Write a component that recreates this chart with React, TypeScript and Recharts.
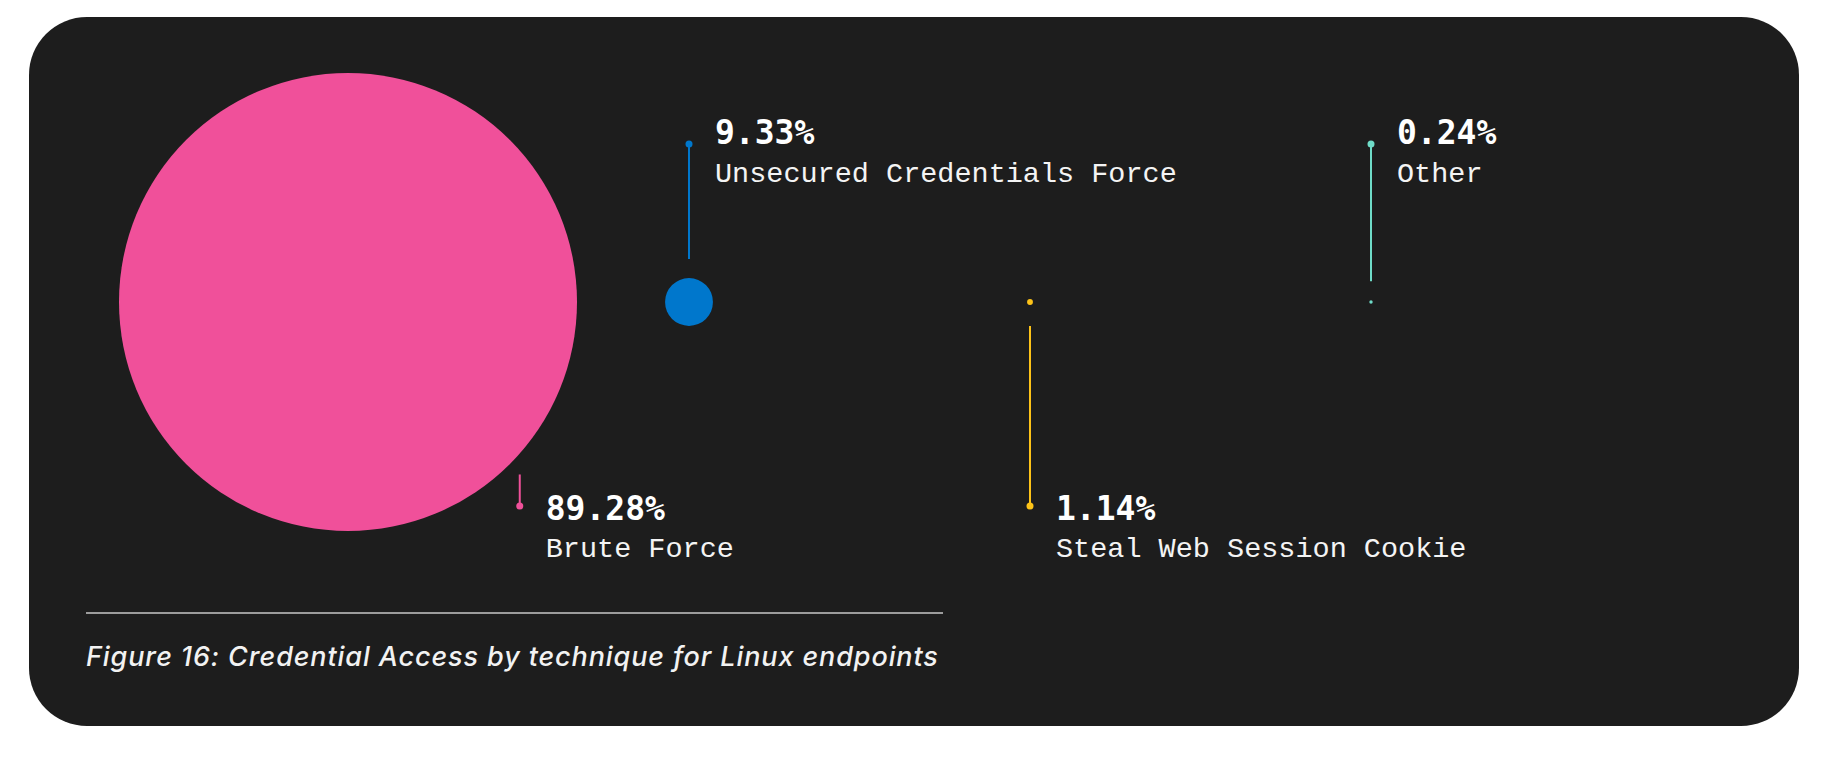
import { Scatter, ScatterChart, XAxis, YAxis, ZAxis } from "recharts";

const techniques = [
  "Brute Force",
  "Unsecured Credentials Force",
  "Steal Web Session Cookie",
  "Other",
];
const shares = [89.28, 9.33, 1.14, 0.24];
const colors = ["#f0509a", "#0077cc", "#fdc318", "#6fdcc8"];

const caption = "Figure 16: Credential Access by technique for Linux endpoints";

const data = techniques.map((name, i) => ({ name, value: shares[i] }));

const CARD_W = 1770;
const CARD_H = 709;

function Bubble(props: any) {
  const { cx, cy, size, payload } = props;
  const i = techniques.indexOf(payload.name);
  const color = colors[i];
  const r = Math.max(1.7, size);
  const above = i % 2 === 1;
  // the big circle gets its leader on its lower right side
  const big = r > 100;
  const lx = big ? cx + r * 0.75 : cx;
  const edge = big ? Math.sqrt(r * r - (0.75 * r) ** 2) : r;

  let dotY: number, y1: number, y2: number, pctY: number, nameY: number;
  if (above) {
    dotY = cy - 158;
    y1 = dotY;
    y2 = cy - edge - 19;
    pctY = cy - 158;
    nameY = cy - 120;
  } else {
    dotY = cy + 204;
    y1 = cy + edge + 21;
    y2 = dotY;
    pctY = cy + 218;
    nameY = cy + 255;
  }
  const tx = lx + 26;

  return (
    <g>
      <circle cx={cx} cy={cy} r={r} fill={color} />
      <line x1={lx} x2={lx} y1={y1} y2={y2} stroke={color} strokeWidth={2} />
      <circle cx={lx} cy={dotY} r={3.5} fill={color} />
      <text
        x={tx}
        y={pctY}
        fill="#ffffff"
        fontFamily="DejaVu Sans Mono"
        fontWeight={700}
        fontSize={33}
      >
        {shares[i].toFixed(2)}%
      </text>
      <text
        x={tx}
        y={nameY}
        fill="#f4f4f4"
        fontFamily="Liberation Mono"
        fontSize={28.5}
      >
        {payload.name}
      </text>
    </g>
  );
}

export default function App() {
  return (
    <div
      style={{
        position: "relative",
        marginLeft: 21,
        marginTop: 9,
        width: CARD_W,
        height: CARD_H,
        borderRadius: 58,
        background: "#1d1d1d",
        overflow: "hidden",
      }}
    >
      <ScatterChart
        width={CARD_W}
        height={CARD_H}
        margin={{ top: 0, right: 257.5, bottom: 139, left: 148.5 }}
      >
        <XAxis dataKey="name" type="category" hide />
        <YAxis type="number" dataKey={() => 0} domain={[-1, 1]} hide />
        <ZAxis type="number" dataKey="value" domain={[0, 89.28]} range={[0, 229]} />
        <Scatter data={data} shape={Bubble} isAnimationActive={false} />
      </ScatterChart>
      <div
        style={{
          position: "absolute",
          left: 57,
          top: 595,
          width: 857,
          height: 2,
          background: "#9c9c9c",
        }}
      />
      <div
        style={{
          position: "absolute",
          left: 57,
          top: 624,
          fontFamily: "Inter",
          fontStyle: "italic",
          fontWeight: 500,
          fontSize: 27,
          letterSpacing: 0.9,
          lineHeight: "32px",
          color: "#f2f2f2",
          whiteSpace: "nowrap",
        }}
      >
        {caption}
      </div>
    </div>
  );
}
